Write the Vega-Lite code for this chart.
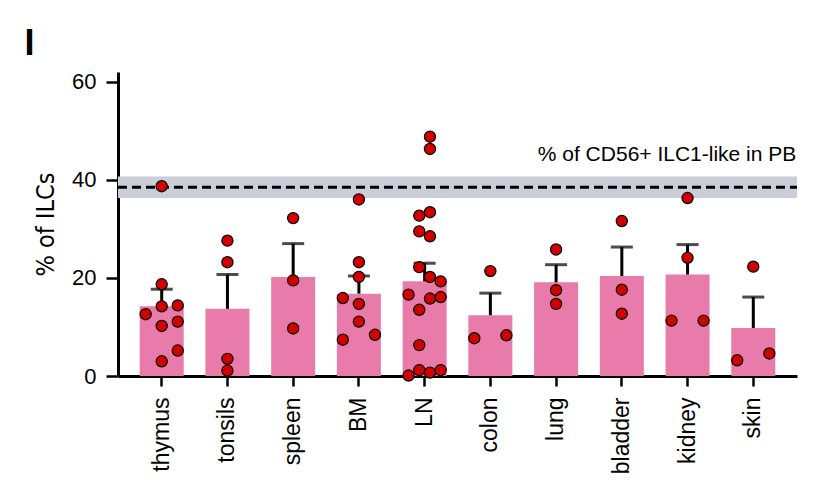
{
  "$schema": "https://vega.github.io/schema/vega-lite/v6.json",
  "autosize": {"type": "none"},
  "padding": {"left": 118, "top": 72, "right": 25, "bottom": 128},
  "width": 679,
  "height": 304,
  "background": "white",
  "title": {"text": "I", "anchor": "start", "frame": "bounds", "font": "Liberation Sans", "fontSize": 36, "fontWeight": "bold", "color": "black", "baseline": "alphabetic", "offset": 16, "dx": -9, "dy": 36},
  "datasets": {
    "tissues": [
      {"tissue": "thymus", "mean": 14.2, "upper": 17.7},
      {"tissue": "tonsils", "mean": 13.7, "upper": 20.7},
      {"tissue": "spleen", "mean": 20.2, "upper": 27.0},
      {"tissue": "BM", "mean": 16.8, "upper": 20.4},
      {"tissue": "LN", "mean": 19.3, "upper": 23.0},
      {"tissue": "colon", "mean": 12.4, "upper": 16.9},
      {"tissue": "lung", "mean": 19.1, "upper": 22.7},
      {"tissue": "bladder", "mean": 20.4, "upper": 26.3},
      {"tissue": "kidney", "mean": 20.7, "upper": 26.8},
      {"tissue": "skin", "mean": 9.8, "upper": 16.1}
    ],
    "points": [
      {"tissue": "thymus", "value": 38.7, "col": 0},
      {"tissue": "thymus", "value": 18.7, "col": 0},
      {"tissue": "thymus", "value": 12.6, "col": -1.5},
      {"tissue": "thymus", "value": 14.2, "col": 0},
      {"tissue": "thymus", "value": 14.4, "col": 1.5},
      {"tissue": "thymus", "value": 10.2, "col": 0},
      {"tissue": "thymus", "value": 11.1, "col": 1.5},
      {"tissue": "thymus", "value": 5.2, "col": 1.5},
      {"tissue": "thymus", "value": 3.0, "col": 0},
      {"tissue": "tonsils", "value": 27.6, "col": 0},
      {"tissue": "tonsils", "value": 23.2, "col": 0},
      {"tissue": "tonsils", "value": 3.5, "col": 0},
      {"tissue": "tonsils", "value": 1.1, "col": 0},
      {"tissue": "spleen", "value": 32.2, "col": 0},
      {"tissue": "spleen", "value": 19.5, "col": 0},
      {"tissue": "spleen", "value": 9.7, "col": 0},
      {"tissue": "BM", "value": 36.0, "col": 0},
      {"tissue": "BM", "value": 23.2, "col": 0},
      {"tissue": "BM", "value": 20.2, "col": 0},
      {"tissue": "BM", "value": 15.9, "col": -1.5},
      {"tissue": "BM", "value": 14.7, "col": 0},
      {"tissue": "BM", "value": 11.1, "col": 0},
      {"tissue": "BM", "value": 7.4, "col": -1.5},
      {"tissue": "BM", "value": 8.4, "col": 1.5},
      {"tissue": "LN", "value": 48.8, "col": 0.5},
      {"tissue": "LN", "value": 46.3, "col": 0.5},
      {"tissue": "LN", "value": 32.7, "col": -0.5},
      {"tissue": "LN", "value": 33.4, "col": 0.5},
      {"tissue": "LN", "value": 29.5, "col": -0.5},
      {"tissue": "LN", "value": 28.5, "col": 0.5},
      {"tissue": "LN", "value": 22.2, "col": -0.5},
      {"tissue": "LN", "value": 20.2, "col": 0.5},
      {"tissue": "LN", "value": 19.3, "col": 1.5},
      {"tissue": "LN", "value": 16.6, "col": -1.5},
      {"tissue": "LN", "value": 15.8, "col": 0.5},
      {"tissue": "LN", "value": 16.1, "col": 1.5},
      {"tissue": "LN", "value": 13.5, "col": -0.5},
      {"tissue": "LN", "value": 6.3, "col": -0.5},
      {"tissue": "LN", "value": 0.1, "col": -1.5},
      {"tissue": "LN", "value": 1.2, "col": -0.5},
      {"tissue": "LN", "value": 0.7, "col": 0.5},
      {"tissue": "LN", "value": 1.2, "col": 1.5},
      {"tissue": "colon", "value": 21.4, "col": 0},
      {"tissue": "colon", "value": 7.7, "col": -1.5},
      {"tissue": "colon", "value": 8.3, "col": 1.5},
      {"tissue": "lung", "value": 25.8, "col": 0},
      {"tissue": "lung", "value": 17.5, "col": 0},
      {"tissue": "lung", "value": 14.7, "col": 0},
      {"tissue": "bladder", "value": 31.6, "col": 0},
      {"tissue": "bladder", "value": 17.6, "col": 0},
      {"tissue": "bladder", "value": 12.7, "col": 0},
      {"tissue": "kidney", "value": 36.3, "col": 0},
      {"tissue": "kidney", "value": 24.1, "col": 0},
      {"tissue": "kidney", "value": 11.3, "col": -1.5},
      {"tissue": "kidney", "value": 11.3, "col": 1.5},
      {"tissue": "skin", "value": 22.3, "col": 0},
      {"tissue": "skin", "value": 3.2, "col": -1.5},
      {"tissue": "skin", "value": 4.6, "col": 1.5}
    ],
    "pb": [
      {"label": "% of CD56+ ILC1-like in PB", "mean": 38.5, "lo": 36.3, "hi": 40.7}
    ]
  },
  "config": {
    "view": {"stroke": null},
    "axis": {"grid": false, "domainColor": "black", "domainWidth": 3, "tickColor": "black", "tickWidth": 2.5, "labelColor": "black", "titleColor": "black", "labelFont": "Liberation Sans"}
  },
  "layer": [
    {
      "data": {"name": "pb"},
      "mark": {"type": "rect", "color": "#C9CED8"},
      "encoding": {
        "x": {"value": 0},
        "x2": {"value": "width"},
        "y": {"field": "lo", "type": "quantitative", "scale": {"domain": [0, 62], "nice": false}},
        "y2": {"field": "hi"}
      }
    },
    {
      "data": {"name": "pb"},
      "mark": {"type": "rule", "color": "black", "strokeWidth": 2.8, "strokeDash": [9, 5]},
      "encoding": {
        "x": {"value": 0},
        "x2": {"value": "width"},
        "y": {"field": "mean", "type": "quantitative"}
      }
    },
    {
      "data": {"name": "pb"},
      "mark": {"type": "text", "align": "right", "baseline": "alphabetic", "font": "Liberation Sans", "fontSize": 21, "color": "black", "dy": -15, "dx": 21},
      "encoding": {
        "x": {"datum": "skin", "bandPosition": 1},
        "y": {"field": "hi", "type": "quantitative"},
        "text": {"field": "label"}
      }
    },
    {
      "data": {"name": "tissues"},
      "mark": {"type": "bar", "color": "#E97BAA", "width": 44},
      "encoding": {
        "x": {"field": "tissue", "type": "nominal", "sort": null},
        "y": {"field": "mean", "type": "quantitative"}
      }
    },
    {
      "data": {"name": "tissues"},
      "mark": {"type": "rule", "color": "black", "strokeWidth": 3},
      "encoding": {
        "x": {"field": "tissue", "type": "nominal", "sort": null},
        "y": {"field": "mean", "type": "quantitative"},
        "y2": {"field": "upper"}
      }
    },
    {
      "data": {"name": "tissues"},
      "mark": {"type": "tick", "color": "black", "thickness": 3, "size": 22},
      "encoding": {
        "x": {"field": "tissue", "type": "nominal", "sort": null},
        "y": {"field": "upper", "type": "quantitative"}
      }
    },
    {
      "data": {"name": "points"},
      "mark": {"type": "point", "filled": true, "fill": "#D00000", "stroke": "black", "strokeWidth": 1.2, "size": 125, "opacity": 1, "fillOpacity": 1},
      "encoding": {
        "x": {"field": "tissue", "type": "nominal", "sort": null},
        "xOffset": {"field": "col", "type": "quantitative", "scale": {"domain": [-2, 2], "range": [0.6, 43.4]}},
        "y": {"field": "value", "type": "quantitative"}
      }
    }
  ],
  "encoding": {
    "x": {
      "field": "tissue", "type": "nominal", "sort": null,
      "scale": {"domain": ["thymus", "tonsils", "spleen", "BM", "LN", "colon", "lung", "bladder", "kidney", "skin"], "paddingInner": 0.33, "paddingOuter": 0.33},
      "axis": {"title": null, "labelAngle": -90, "labelFontSize": 23, "labelPadding": 11, "tickSize": 10}
    },
    "y": {
      "type": "quantitative",
      "axis": {"title": "% of ILCs", "titleFont": "DejaVu Sans Condensed", "titleFontSize": 25, "titleFontWeight": "normal", "titlePadding": 13, "values": [0, 20, 40, 60], "labelFontSize": 22, "labelPadding": 10, "tickSize": 12}
    }
  }
}
